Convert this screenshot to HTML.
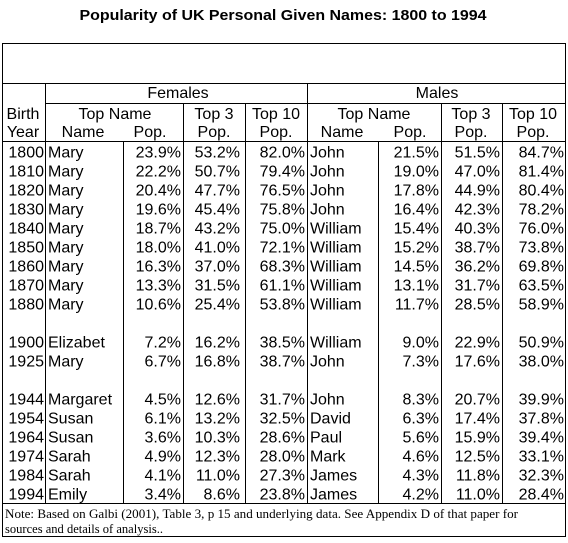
<!DOCTYPE html>
<html><head><meta charset="utf-8"><style>
html,body{margin:0;padding:0;background:#fff;}
svg{display:block;}
text{font-family:"Liberation Sans",Arial,sans-serif;font-size:16px;fill:#000;}
.note{font-family:"Liberation Serif",serif;font-size:12.5px;}
</style></head><body>
<svg id="chart" width="568" height="543" viewBox="0 0 568 543">
<text x="283" y="20" text-anchor="middle" font-weight="bold" style="font-size:15px" textLength="407" lengthAdjust="spacingAndGlyphs">Popularity of UK Personal Given Names: 1800 to 1994</text>
<g stroke="#000" stroke-width="1" fill="none">
<rect x="2.5" y="43.5" width="563" height="493"/>
<line x1="2" y1="83.5" x2="566" y2="83.5"/>
<line x1="46" y1="103.5" x2="566" y2="103.5"/>
<line x1="2" y1="141.5" x2="566" y2="141.5"/>
<line x1="2" y1="503.5" x2="566" y2="503.5"/>
<line x1="45.5" y1="83" x2="45.5" y2="503"/>
<line x1="307.5" y1="83" x2="307.5" y2="503"/>
<line x1="183.5" y1="103" x2="183.5" y2="503"/>
<line x1="245.5" y1="103" x2="245.5" y2="503"/>
<line x1="441.5" y1="103" x2="441.5" y2="503"/>
<line x1="502.5" y1="103" x2="502.5" y2="503"/>
<line x1="123.5" y1="141" x2="123.5" y2="503"/>
<line x1="378.5" y1="141" x2="378.5" y2="503"/>
</g>
<g>
<text x="178" y="98" text-anchor="middle">Females</text>
<text x="437" y="98" text-anchor="middle">Males</text>
<text x="23" y="119" text-anchor="middle">Birth</text>
<text x="23" y="137" text-anchor="middle">Year</text>
<text x="115" y="119" text-anchor="middle">Top Name</text>
<text x="83" y="137" text-anchor="middle">Name</text>
<text x="150" y="137" text-anchor="middle">Pop.</text>
<text x="214" y="119" text-anchor="middle">Top 3</text>
<text x="214" y="137" text-anchor="middle">Pop.</text>
<text x="276" y="119" text-anchor="middle">Top 10</text>
<text x="276" y="137" text-anchor="middle">Pop.</text>
<text x="374" y="119" text-anchor="middle">Top Name</text>
<text x="342" y="137" text-anchor="middle">Name</text>
<text x="410" y="137" text-anchor="middle">Pop.</text>
<text x="471" y="119" text-anchor="middle">Top 3</text>
<text x="471" y="137" text-anchor="middle">Pop.</text>
<text x="533" y="119" text-anchor="middle">Top 10</text>
<text x="533" y="137" text-anchor="middle">Pop.</text>
</g>
<g id="rows"></g>
<text class="note" x="5" y="518" textLength="513" lengthAdjust="spacingAndGlyphs">Note: Based on Galbi (2001), Table 3, p 15 and underlying data.  See Appendix D of that paper for</text>
<text class="note" x="5" y="533" textLength="158" lengthAdjust="spacingAndGlyphs">sources and details of analysis..</text>
</svg>
<script>
const years = ["1800","1810","1820","1830","1840","1850","1860","1870","1880","","1900","1925","","1944","1954","1964","1974","1984","1994"];
const femaleNames = ["Mary","Mary","Mary","Mary","Mary","Mary","Mary","Mary","Mary","","Elizabet","Mary","","Margaret","Susan","Susan","Sarah","Sarah","Emily"];
const femalePop = ["23.9%","22.2%","20.4%","19.6%","18.7%","18.0%","16.3%","13.3%","10.6%","","7.2%","6.7%","","4.5%","6.1%","3.6%","4.9%","4.1%","3.4%"];
const femaleTop3 = ["53.2%","50.7%","47.7%","45.4%","43.2%","41.0%","37.0%","31.5%","25.4%","","16.2%","16.8%","","12.6%","13.2%","10.3%","12.3%","11.0%","8.6%"];
const femaleTop10 = ["82.0%","79.4%","76.5%","75.8%","75.0%","72.1%","68.3%","61.1%","53.8%","","38.5%","38.7%","","31.7%","32.5%","28.6%","28.0%","27.3%","23.8%"];
const maleNames = ["John","John","John","John","William","William","William","William","William","","William","John","","John","David","Paul","Mark","James","James"];
const malePop = ["21.5%","19.0%","17.8%","16.4%","15.4%","15.2%","14.5%","13.1%","11.7%","","9.0%","7.3%","","8.3%","6.3%","5.6%","4.6%","4.3%","4.2%"];
const maleTop3 = ["51.5%","47.0%","44.9%","42.3%","40.3%","38.7%","36.2%","31.7%","28.5%","","22.9%","17.6%","","20.7%","17.4%","15.9%","12.5%","11.8%","11.0%"];
const maleTop10 = ["84.7%","81.4%","80.4%","78.2%","76.0%","73.8%","69.8%","63.5%","58.9%","","50.9%","38.0%","","39.9%","37.8%","39.4%","33.1%","32.3%","28.4%"];
const NS="http://www.w3.org/2000/svg";
const g=document.getElementById('rows');
const cols=[
 [years,44,'end','year'],[femaleNames,48,'start','female-name'],[femalePop,181,'end','female-pop'],
 [femaleTop3,240,'end','female-top3'],[femaleTop10,305,'end','female-top10'],
 [maleNames,310,'start','male-name'],[malePop,439,'end','male-pop'],
 [maleTop3,500,'end','male-top3'],[maleTop10,564,'end','male-top10']];
function rowY(i){return 157.5+19*i;}
for(let i=0;i<years.length;i++){
 if(!years[i])continue;
 for(const c of cols){
  const t=document.createElementNS(NS,'text');
  t.setAttribute('x',c[1]);t.setAttribute('y',rowY(i));
  t.setAttribute('text-anchor',c[2]);
  t.textContent=c[0][i];
  
  
  g.appendChild(t);
 }
}
</script>
</body></html>
